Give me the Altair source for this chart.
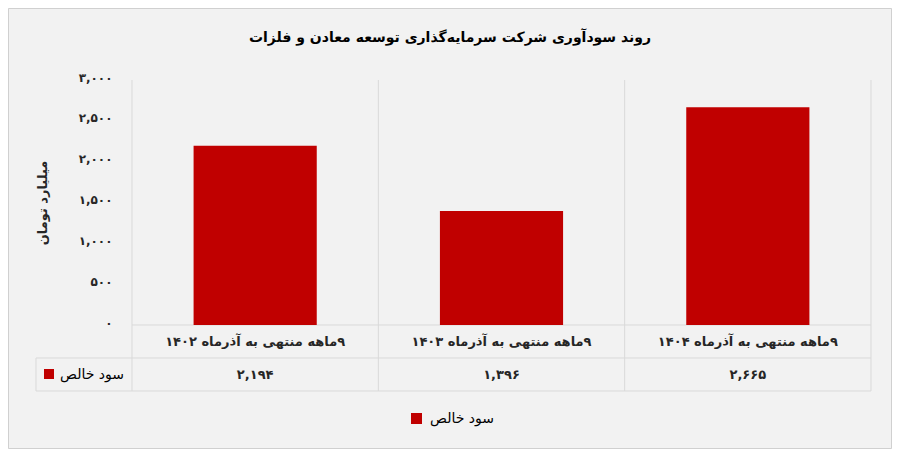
import altair as alt
import pandas as pd

# ---- data ----
categories = ["۹ماهه منتهی به آذرماه ۱۴۰۲", "۹ماهه منتهی به آذرماه ۱۴۰۳", "۹ماهه منتهی به آذرماه ۱۴۰۴"]
values = [2194, 1396, 2665]
value_labels = ["۲,۱۹۴", "۱,۳۹۶", "۲,۶۶۵"]
y_ticks = [0, 500, 1000, 1500, 2000, 2500, 3000]
y_tick_labels = ["۰", "۵۰۰", "۱,۰۰۰", "۱,۵۰۰", "۲,۰۰۰", "۲,۵۰۰", "۳,۰۰۰"]
series_name = "سود خالص"
title_text = "روند سودآوری شرکت سرمایه‌گذاری توسعه معادن و فلزات"
y_title = "میلیارد تومان"

FONT = "DejaVu Sans"
RED = "#c00000"
GRID = "#d9d9d9"
W, H = 739, 245
ROW = 33
RLE, PDF = "\u202b", "\u202c"

df = pd.DataFrame({
    "cat": categories,
    "catlabel": [RLE + c + PDF for c in categories],
    "value": values,
    "vlabel": value_labels,
})
one = pd.DataFrame({"a": [0]})

label_expr = " : ".join(
    f"datum.value == {v} ? '{l}'" for v, l in zip(y_ticks, y_tick_labels)
) + " : ''"

xscale = alt.Scale(domain=categories, paddingInner=0, paddingOuter=0)
X = lambda **kw: alt.X("cat:N", sort=categories, scale=xscale, axis=None, **kw)

base = alt.Chart(df)

frame = alt.Chart(one).mark_rect(fill=None, fillOpacity=0, stroke="#d0d0d0", strokeWidth=1).encode(
    x=alt.value(-123.5), x2=alt.value(759.5), y=alt.value(-71.5), y2=alt.value(368.5)
)

bars = base.mark_bar(color=RED, width=alt.RelativeBandSize(0.5)).encode(
    x=X(),
    y=alt.Y(
        "value:Q",
        scale=alt.Scale(domain=[0, 3000], nice=False),
        axis=alt.Axis(
            values=y_ticks, labelExpr=label_expr, domain=False, ticks=False, grid=False,
            labelPadding=20, labelFontSize=12, labelFontWeight="bold", labelFont=FONT,
            labelColor="#262626", labelOffset=-3, zindex=2,
            title=y_title, titleX=-90, titleY=H / 2, titleAngle=270, titleFontSize=13,
            titleFont=FONT, titleFontWeight="bold", titleAlign="center",
            titleBaseline="middle", titleColor="#262626",
        ),
    ),
)

vlines = base.mark_rule(color=GRID).encode(
    x=X(bandPosition=0), y=alt.value(0), y2=alt.value(H + 2 * ROW)
)
vline_last = base.transform_filter(alt.datum.cat == categories[-1]).mark_rule(color=GRID).encode(
    x=X(bandPosition=1), y=alt.value(0), y2=alt.value(H + 2 * ROW)
)
vline_leg = alt.Chart(one).mark_rule(color=GRID).encode(
    x=alt.value(-96), y=alt.value(H + ROW), y2=alt.value(H + 2 * ROW)
)
h1 = alt.Chart(one).mark_rule(color=GRID).encode(x=alt.value(0), x2=alt.value(W), y=alt.value(H))
h2 = alt.Chart(one).mark_rule(color=GRID).encode(x=alt.value(-96), x2=alt.value(W), y=alt.value(H + ROW))
h3 = alt.Chart(one).mark_rule(color=GRID).encode(x=alt.value(-96), x2=alt.value(W), y=alt.value(H + 2 * ROW))

cat_text = base.mark_text(font=FONT, fontSize=13, fontWeight="bold", color="#262626", baseline="middle").encode(
    x=X(), y=alt.value(H + ROW / 2), text="catlabel:N"
)
val_text = base.mark_text(font=FONT, fontSize=13, fontWeight="bold", color="#262626", baseline="middle").encode(
    x=X(), y=alt.value(H + ROW * 1.5), text="vlabel:N"
)

leg_df = pd.DataFrame({"name": [series_name]})
leg_sq1 = alt.Chart(leg_df).mark_rect(color=RED).encode(
    x=alt.value(-88), x2=alt.value(-78), y=alt.value(289), y2=alt.value(299)
)
leg_tx1 = alt.Chart(leg_df).mark_text(font=FONT, fontSize=14, color="#000", align="right", baseline="middle").encode(
    x=alt.value(-8), y=alt.value(H + ROW * 1.5), text="name:N"
)
leg_sq2 = alt.Chart(leg_df).mark_rect(color=RED).encode(
    x=alt.value(279), x2=alt.value(290), y=alt.value(333), y2=alt.value(344)
)
leg_tx2 = alt.Chart(leg_df).mark_text(font=FONT, fontSize=14, color="#000", align="left", baseline="middle").encode(
    x=alt.value(298), y=alt.value(338.5), text="name:N"
)

title = alt.Chart(pd.DataFrame({"t": [title_text]})).mark_text(
    font=FONT, fontSize=14, fontWeight="bold", color="#000", align="center", baseline="middle"
).encode(x=alt.value(318), y=alt.value(-42), text="t:N")

chart = alt.layer(
    frame, vlines, vline_last, vline_leg, h1, h2, h3, bars, cat_text, val_text,
    leg_sq1, leg_tx1, leg_sq2, leg_tx2, title,
).properties(
    width=W, height=H,
    autosize=alt.AutoSizeParams(type="none"),
    padding={"left": 124, "top": 72, "right": 21, "bottom": 124},
    background="#f2f2f2",
).configure_view(stroke=None)

chart.save("out.html", embed_options={"renderer": "svg", "actions": False})
